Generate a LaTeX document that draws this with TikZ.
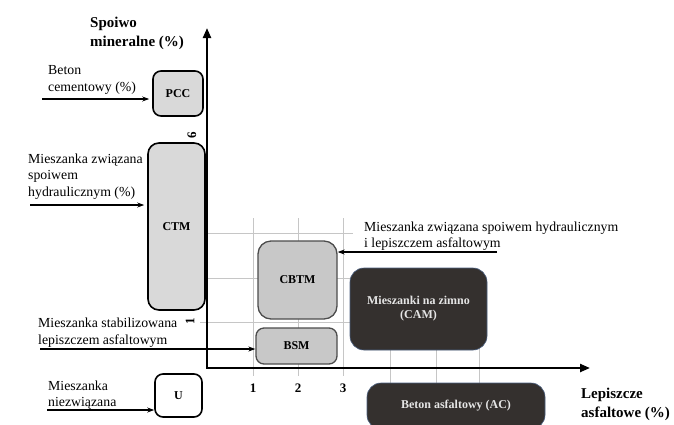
\documentclass[tikz,border=0pt]{standalone}
\usepackage{fontspec}
\setmainfont{Liberation Serif}
\usetikzlibrary{positioning,arrows.meta}
\definecolor{lightbox}{HTML}{D9D9D9}
\definecolor{midbox}{HTML}{C8C8C8}
\definecolor{darkbox}{HTML}{34302E}
\definecolor{gridgray}{HTML}{C6C6C6}
\definecolor{edgeblue}{HTML}{4A5F80}
\tikzset{
	boxlbl/.style={font=\fontsize{12}{14}\selectfont\bfseries},
	graybox/.style={boxlbl, draw, line width=1.6pt, fill=lightbox, rounded corners=8pt},
	midgraybox/.style={boxlbl, draw=black!70, line width=1.3pt, fill=midbox, rounded corners=10pt},
	darkgraybox/.style={boxlbl, draw=edgeblue, line width=0.6pt, fill=darkbox, text=white!90!black, rounded corners=14pt, align=center},
	lbl/.style={align=left, inner sep=0pt, anchor=base west, font=\fontsize{13.8}{16.5}\selectfont},
	axislbl/.style={align=left, inner sep=0pt, anchor=base west, font=\fontsize{15}{19}\selectfont\bfseries},
	ticklbl/.style={inner sep=0pt, font=\fontsize{13}{15}\selectfont\bfseries},
	gridline/.style={draw=gridgray, line width=0.8pt},
	arr/.style={-{Stealth[length=7pt,width=5pt]}, line width=1.2pt},
	axis/.style={{Triangle[length=10pt,width=8pt]}-{Triangle[length=10pt,width=8pt]}, line width=2.2pt}
}
\begin{document}
\begin{tikzpicture}[x=1pt, y=-1pt]
	\useasboundingbox (0,0) rectangle (674,424);
	\clip (0,0) rectangle (674,424);
	\fill[white] (0,0) rectangle (674,424);

	\foreach \x in {253,298,343} \draw[gridline] (\x,218) -- (\x,376);
	\foreach \y in {233,278,322} \draw[gridline] (200,\y) -- (353,\y);
	\foreach \x in {390,436,479} \draw[gridline] (\x,345) -- (\x,388);

	\node[graybox, minimum width=50pt, minimum height=45pt] (PCC) at (178,93.5) {PCC};
	\node[graybox, minimum width=57pt, minimum height=167pt, rounded corners=11pt] (CTM) at (176.5,226.5) {CTM};
	\node[graybox, fill=white, minimum width=47pt, minimum height=43pt] (U) at (178.5,395.5) {U};
	\node[midgraybox, minimum width=79pt, minimum height=78pt, rounded corners=13pt] (CBTM) at (297.5,280) {CBTM};
	\node[midgraybox, minimum width=81pt, minimum height=36pt, rounded corners=8pt] (BSM) at (296.5,346) {BSM};
	\node[darkgraybox, minimum width=137pt, minimum height=82pt] (CAM) at (418.5,309) {Mieszanki na zimno\\(CAM)};
	\node[darkgraybox, minimum width=178pt, minimum height=46pt] (AC) at (456,406) {Beton asfaltowy (AC)};

	\coordinate (orig) at (207,368);
	\coordinate (ytop) at (207,28);
	\coordinate (xend) at (590,368);
	\draw[axis] (ytop) -- (orig) -- (xend);

	\foreach \x/\t in {253/1,298/2,343/3} \node[ticklbl] (t\t) at (\x,388) {\t};
	\node[ticklbl, rotate=90] (y6) at (192,135) {6};
	\node[ticklbl, rotate=90] (y1) at (190,321) {1};

	\node[axislbl] (ylab) at (90,46) {Spoiwo\\mineralne (\%)};
	\node[axislbl] (xlab) at (581,417) {Lepiszcze\\asfaltowe (\%)};

	\node[lbl] (pcctxt) at (48,91) {Beton\\cementowy (\%)};
	\node[lbl] (ctmtxt) at (28,196) {Mieszanka związana\\spoiwem\\hydraulicznym (\%)};
	\node[lbl] (bsmtxt) at (38,344) {Mieszanka stabilizowana\\lepiszczem asfaltowym};
	\node[lbl] (utxt) at (48,406.5) {Mieszanka\\niezwiązana};
	\node[lbl] (cbtmtxt) at (364,247.5) {Mieszanka związana spoiwem hydraulicznym\\i lepiszczem asfaltowym};

	\coordinate (pccin) at (42,99);
	\coordinate (ctmin) at (30,205);
	\coordinate (bsmin) at (40,349);
	\coordinate (uin) at (47,410);
	\coordinate (cbtmin) at (497,252);
	\draw[arr, shorten >=3pt] (pccin) -- (pccin -| PCC.west);
	\draw[arr, shorten >=3pt] (ctmin) -- (ctmin -| CTM.west);
	\draw[arr] (bsmin) -- (bsmin -| BSM.west);
	\draw[arr] (uin) -- (uin -| U.west);
	\draw[arr] (cbtmin) -- (cbtmin -| CBTM.east);
\end{tikzpicture}
\end{document}
